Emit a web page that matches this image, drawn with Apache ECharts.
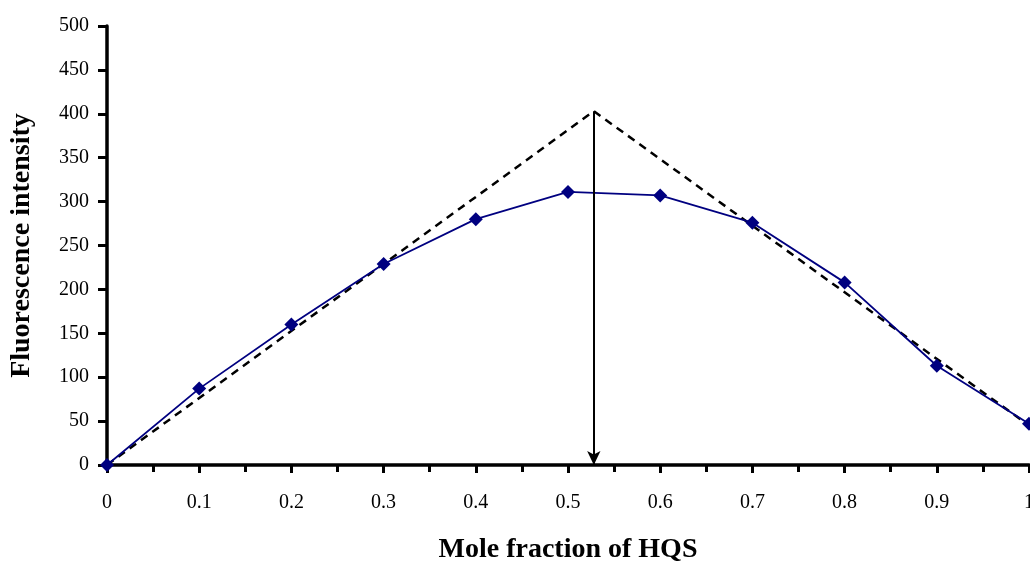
<!DOCTYPE html>
<html>
<head>
<meta charset="utf-8">
<script src="https://cdn.jsdelivr.net/npm/echarts@6/dist/echarts.min.js"></script>
<style>
  html, body { margin: 0; padding: 0; background: #fff; }
  #chart { width: 1030px; height: 565px; }
</style>
</head>
<body>
<div id="chart"></div>
<script>
// Job's plot: fluorescence intensity vs mole fraction of HQS
const moleFraction = [0, 0.1, 0.2, 0.3, 0.4, 0.5, 0.6, 0.7, 0.8, 0.9, 1.0];
const intensity = [0, 87, 160, 229, 280, 311, 307, 276, 208, 113, 47];

// Tangent lines extrapolated to their intersection
const tangentX = [0, 0.528, 1.0];
const tangentY = [0, 403, 45];

// Stoichiometry marker dropped from the intersection to the axis
const arrowX = 0.528;
const arrowTop = 403;

const serif = '"Liberation Serif", "Times New Roman", serif';

const chart = echarts.init(document.getElementById('chart'));
chart.setOption({
  animation: false,
  backgroundColor: '#ffffff',
  grid: { left: 107, right: 1, top: 26, bottom: 100, containLabel: false, outerBoundsMode: 'none' },
  xAxis: {
    type: 'value',
    min: 0, max: 1, interval: 0.1,
    name: 'Mole fraction of HQS',
    nameLocation: 'middle',
    nameGap: 71,
    nameTextStyle: { fontFamily: serif, fontWeight: 'bold', fontSize: 28, color: '#000' },
    axisLine: { onZero: false, lineStyle: { color: '#000', width: 3.5 } },
    axisTick: { show: true, inside: false, length: 8, lineStyle: { color: '#000', width: 3 } },
    minorTick: { show: true, splitNumber: 2, length: 7, lineStyle: { color: '#000', width: 3 } },
    splitLine: { show: false },
    axisLabel: {
      fontFamily: serif, fontSize: 20, color: '#000', margin: 28,
      hideOverlap: false,
      formatter: v => String(Math.round(v * 10) / 10)
    }
  },
  yAxis: {
    type: 'value',
    min: 0, max: 500, interval: 50,
    name: 'Fluorescence intensity',
    nameLocation: 'middle',
    nameGap: 71,
    nameTextStyle: { fontFamily: serif, fontWeight: 'bold', fontSize: 28, color: '#000' },
    axisLine: { show: true, lineStyle: { color: '#000', width: 3.5 } },
    axisTick: { show: true, inside: false, length: 9, lineStyle: { color: '#000', width: 3 } },
    splitLine: { show: false },
    axisLabel: { fontFamily: serif, fontSize: 20, color: '#000', margin: 18 }
  },
  series: [
    {
      name: 'Tangents',
      type: 'line',
      data: tangentX.map((x, i) => [x, tangentY[i]]),
      symbol: 'none',
      silent: true,
      lineStyle: { color: '#000', width: 2.5, type: [8, 6] },
      z: 2,
      markLine: {
        silent: true,
        symbol: ['none', 'arrow'],
        symbolSize: [10, 14],
        label: { show: false },
        lineStyle: { color: '#000', width: 2, type: 'solid' },
        data: [[{ coord: [arrowX, arrowTop] }, { coord: [arrowX, 0] }]]
      }
    },
    {
      name: 'Intensity',
      type: 'line',
      data: moleFraction.map((x, i) => [x, intensity[i]]),
      symbol: 'diamond',
      symbolSize: 14,
      itemStyle: { color: '#000080' },
      lineStyle: { color: '#000080', width: 1.8 },
      z: 3
    }
  ]
});
</script>
</body>
</html>
